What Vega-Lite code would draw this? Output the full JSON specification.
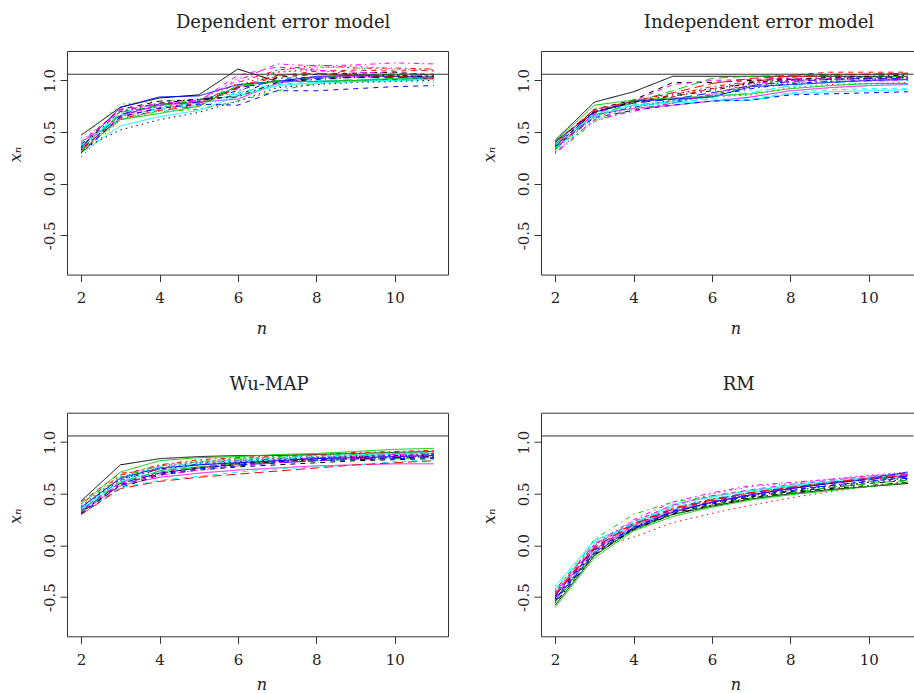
{
"$schema": "https://vega.github.io/schema/vega-lite/v6.json",
"autosize": {"type": "pad"},
"padding": {"left": 7, "top": 14, "right": 0, "bottom": 0},
"background": "white",
"config": {
  "font": "DejaVu Serif",
  "view": {"stroke": null},
  "axis": {"grid": false, "domainColor": "#333", "domainWidth": 1, "tickColor": "#333", "tickSize": 7, "labelColor": "#222", "labelFont": "DejaVu Serif", "labelFontSize": 15, "labelOverlap": false, "titleFont": "DejaVu Serif", "titleFontStyle": "italic", "titleFontWeight": "normal", "titleFontSize": 16, "titleColor": "#222"},
  "axisX": {"labelPadding": 9, "titleX": 194.5, "titleY": 59, "titleBaseline": "alphabetic", "titleAlign": "center"},
  "axisY": {"labelAngle": -90, "labelAlign": "center", "labelBaseline": "bottom", "labelPadding": 3, "titleAngle": -90, "titleX": -46.7, "titleY": 103, "titleBaseline": "alphabetic", "titleAlign": "center"},
  "title": {"font": "DejaVu Serif", "fontSize": 18, "fontWeight": "normal", "color": "#222", "anchor": "middle", "frame": "group", "offset": 19}
},
"datasets": {
"d1": [
{"s":1,"n":2,"v":0.47},{"s":1,"n":3,"v":0.74},{"s":1,"n":4,"v":0.83},{"s":1,"n":5,"v":0.86},{"s":1,"n":6,"v":1.11},{"s":1,"n":7,"v":0.99},{"s":1,"n":8,"v":0.99},{"s":1,"n":9,"v":1.00},{"s":1,"n":10,"v":1.01},{"s":1,"n":11,"v":1.02},
{"s":2,"n":2,"v":0.30},{"s":2,"n":3,"v":0.64},{"s":2,"n":4,"v":0.74},{"s":2,"n":5,"v":0.78},{"s":2,"n":6,"v":0.92},{"s":2,"n":7,"v":1.04},{"s":2,"n":8,"v":1.09},{"s":2,"n":9,"v":1.10},{"s":2,"n":10,"v":1.09},{"s":2,"n":11,"v":1.10},
{"s":3,"n":2,"v":0.44},{"s":3,"n":3,"v":0.77},{"s":3,"n":4,"v":0.80},{"s":3,"n":5,"v":0.82},{"s":3,"n":6,"v":0.88},{"s":3,"n":7,"v":1.10},{"s":3,"n":8,"v":1.13},{"s":3,"n":9,"v":1.12},{"s":3,"n":10,"v":1.10},{"s":3,"n":11,"v":1.11},
{"s":4,"n":2,"v":0.33},{"s":4,"n":3,"v":0.66},{"s":4,"n":4,"v":0.76},{"s":4,"n":5,"v":0.80},{"s":4,"n":6,"v":0.90},{"s":4,"n":7,"v":1.02},{"s":4,"n":8,"v":1.03},{"s":4,"n":9,"v":1.04},{"s":4,"n":10,"v":1.05},{"s":4,"n":11,"v":1.04},
{"s":5,"n":2,"v":0.34},{"s":5,"n":3,"v":0.70},{"s":5,"n":4,"v":0.74},{"s":5,"n":5,"v":0.78},{"s":5,"n":6,"v":0.87},{"s":5,"n":7,"v":0.98},{"s":5,"n":8,"v":1.00},{"s":5,"n":9,"v":1.01},{"s":5,"n":10,"v":1.02},{"s":5,"n":11,"v":1.03},
{"s":6,"n":2,"v":0.36},{"s":6,"n":3,"v":0.66},{"s":6,"n":4,"v":0.76},{"s":6,"n":5,"v":0.79},{"s":6,"n":6,"v":0.82},{"s":6,"n":7,"v":0.97},{"s":6,"n":8,"v":1.03},{"s":6,"n":9,"v":1.04},{"s":6,"n":10,"v":1.04},{"s":6,"n":11,"v":1.03},
{"s":7,"n":2,"v":0.38},{"s":7,"n":3,"v":0.72},{"s":7,"n":4,"v":0.80},{"s":7,"n":5,"v":0.81},{"s":7,"n":6,"v":0.85},{"s":7,"n":7,"v":1.03},{"s":7,"n":8,"v":1.06},{"s":7,"n":9,"v":1.07},{"s":7,"n":10,"v":1.08},{"s":7,"n":11,"v":1.05},
{"s":8,"n":2,"v":0.26},{"s":8,"n":3,"v":0.62},{"s":8,"n":4,"v":0.72},{"s":8,"n":5,"v":0.76},{"s":8,"n":6,"v":0.95},{"s":8,"n":7,"v":1.08},{"s":8,"n":8,"v":1.10},{"s":8,"n":9,"v":1.06},{"s":8,"n":10,"v":1.05},{"s":8,"n":11,"v":1.06},
{"s":9,"n":2,"v":0.35},{"s":9,"n":3,"v":0.62},{"s":9,"n":4,"v":0.70},{"s":9,"n":5,"v":0.72},{"s":9,"n":6,"v":0.80},{"s":9,"n":7,"v":0.90},{"s":9,"n":8,"v":0.97},{"s":9,"n":9,"v":0.99},{"s":9,"n":10,"v":1.00},{"s":9,"n":11,"v":1.01},
{"s":10,"n":2,"v":0.32},{"s":10,"n":3,"v":0.67},{"s":10,"n":4,"v":0.77},{"s":10,"n":5,"v":0.79},{"s":10,"n":6,"v":0.93},{"s":10,"n":7,"v":0.99},{"s":10,"n":8,"v":1.02},{"s":10,"n":9,"v":1.03},{"s":10,"n":10,"v":1.03},{"s":10,"n":11,"v":1.02},
{"s":11,"n":2,"v":0.30},{"s":11,"n":3,"v":0.56},{"s":11,"n":4,"v":0.65},{"s":11,"n":5,"v":0.71},{"s":11,"n":6,"v":0.85},{"s":11,"n":7,"v":0.95},{"s":11,"n":8,"v":0.98},{"s":11,"n":9,"v":0.99},{"s":11,"n":10,"v":1.00},{"s":11,"n":11,"v":1.01},
{"s":12,"n":2,"v":0.40},{"s":12,"n":3,"v":0.72},{"s":12,"n":4,"v":0.78},{"s":12,"n":5,"v":0.80},{"s":12,"n":6,"v":1.05},{"s":12,"n":7,"v":1.13},{"s":12,"n":8,"v":1.10},{"s":12,"n":9,"v":1.08},{"s":12,"n":10,"v":1.07},{"s":12,"n":11,"v":1.06},
{"s":13,"n":2,"v":0.33},{"s":13,"n":3,"v":0.52},{"s":13,"n":4,"v":0.62},{"s":13,"n":5,"v":0.69},{"s":13,"n":6,"v":0.80},{"s":13,"n":7,"v":0.93},{"s":13,"n":8,"v":0.96},{"s":13,"n":9,"v":0.98},{"s":13,"n":10,"v":0.99},{"s":13,"n":11,"v":1.00},
{"s":14,"n":2,"v":0.29},{"s":14,"n":3,"v":0.65},{"s":14,"n":4,"v":0.73},{"s":14,"n":5,"v":0.77},{"s":14,"n":6,"v":0.98},{"s":14,"n":7,"v":1.10},{"s":14,"n":8,"v":1.15},{"s":14,"n":9,"v":1.12},{"s":14,"n":10,"v":1.12},{"s":14,"n":11,"v":1.11},
{"s":15,"n":2,"v":0.31},{"s":15,"n":3,"v":0.69},{"s":15,"n":4,"v":0.76},{"s":15,"n":5,"v":0.80},{"s":15,"n":6,"v":0.94},{"s":15,"n":7,"v":1.00},{"s":15,"n":8,"v":1.03},{"s":15,"n":9,"v":1.05},{"s":15,"n":10,"v":1.06},{"s":15,"n":11,"v":1.04},
{"s":16,"n":2,"v":0.35},{"s":16,"n":3,"v":0.74},{"s":16,"n":4,"v":0.84},{"s":16,"n":5,"v":0.85},{"s":16,"n":6,"v":0.96},{"s":16,"n":7,"v":0.99},{"s":16,"n":8,"v":1.04},{"s":16,"n":9,"v":1.05},{"s":16,"n":10,"v":1.04},{"s":16,"n":11,"v":1.03},
{"s":17,"n":2,"v":0.37},{"s":17,"n":3,"v":0.66},{"s":17,"n":4,"v":0.72},{"s":17,"n":5,"v":0.76},{"s":17,"n":6,"v":0.88},{"s":17,"n":7,"v":0.96},{"s":17,"n":8,"v":0.99},{"s":17,"n":9,"v":1.00},{"s":17,"n":10,"v":1.01},{"s":17,"n":11,"v":1.02},
{"s":18,"n":2,"v":0.42},{"s":18,"n":3,"v":0.70},{"s":18,"n":4,"v":0.74},{"s":18,"n":5,"v":0.79},{"s":18,"n":6,"v":1.02},{"s":18,"n":7,"v":1.08},{"s":18,"n":8,"v":1.12},{"s":18,"n":9,"v":1.14},{"s":18,"n":10,"v":1.11},{"s":18,"n":11,"v":1.09},
{"s":19,"n":2,"v":0.36},{"s":19,"n":3,"v":0.70},{"s":19,"n":4,"v":0.78},{"s":19,"n":5,"v":0.82},{"s":19,"n":6,"v":0.84},{"s":19,"n":7,"v":0.98},{"s":19,"n":8,"v":1.01},{"s":19,"n":9,"v":1.03},{"s":19,"n":10,"v":1.04},{"s":19,"n":11,"v":1.04},
{"s":20,"n":2,"v":0.34},{"s":20,"n":3,"v":0.63},{"s":20,"n":4,"v":0.71},{"s":20,"n":5,"v":0.75},{"s":20,"n":6,"v":0.94},{"s":20,"n":7,"v":1.05},{"s":20,"n":8,"v":1.07},{"s":20,"n":9,"v":1.05},{"s":20,"n":10,"v":1.04},{"s":20,"n":11,"v":1.02},
{"s":21,"n":2,"v":0.32},{"s":21,"n":3,"v":0.62},{"s":21,"n":4,"v":0.68},{"s":21,"n":5,"v":0.75},{"s":21,"n":6,"v":0.95},{"s":21,"n":7,"v":0.99},{"s":21,"n":8,"v":0.99},{"s":21,"n":9,"v":1.00},{"s":21,"n":10,"v":1.02},{"s":21,"n":11,"v":1.03},
{"s":22,"n":2,"v":0.30},{"s":22,"n":3,"v":0.65},{"s":22,"n":4,"v":0.73},{"s":22,"n":5,"v":0.77},{"s":22,"n":6,"v":0.76},{"s":22,"n":7,"v":0.90},{"s":22,"n":8,"v":0.90},{"s":22,"n":9,"v":0.92},{"s":22,"n":10,"v":0.94},{"s":22,"n":11,"v":0.95},
{"s":23,"n":2,"v":0.38},{"s":23,"n":3,"v":0.63},{"s":23,"n":4,"v":0.70},{"s":23,"n":5,"v":0.74},{"s":23,"n":6,"v":0.86},{"s":23,"n":7,"v":0.94},{"s":23,"n":8,"v":0.97},{"s":23,"n":9,"v":0.98},{"s":23,"n":10,"v":0.99},{"s":23,"n":11,"v":0.98},
{"s":24,"n":2,"v":0.39},{"s":24,"n":3,"v":0.71},{"s":24,"n":4,"v":0.77},{"s":24,"n":5,"v":0.81},{"s":24,"n":6,"v":1.00},{"s":24,"n":7,"v":1.16},{"s":24,"n":8,"v":1.14},{"s":24,"n":9,"v":1.15},{"s":24,"n":10,"v":1.17},{"s":24,"n":11,"v":1.16}
],
"d2": [
{"s":1,"n":2,"v":0.42},{"s":1,"n":3,"v":0.79},{"s":1,"n":4,"v":0.89},{"s":1,"n":5,"v":1.04},{"s":1,"n":6,"v":1.04},{"s":1,"n":7,"v":1.04},{"s":1,"n":8,"v":1.04},{"s":1,"n":9,"v":1.04},{"s":1,"n":10,"v":1.04},{"s":1,"n":11,"v":1.04},
{"s":2,"n":2,"v":0.36},{"s":2,"n":3,"v":0.70},{"s":2,"n":4,"v":0.78},{"s":2,"n":5,"v":0.84},{"s":2,"n":6,"v":0.92},{"s":2,"n":7,"v":0.98},{"s":2,"n":8,"v":1.05},{"s":2,"n":9,"v":1.08},{"s":2,"n":10,"v":1.08},{"s":2,"n":11,"v":1.08},
{"s":3,"n":2,"v":0.30},{"s":3,"n":3,"v":0.62},{"s":3,"n":4,"v":0.74},{"s":3,"n":5,"v":0.80},{"s":3,"n":6,"v":0.86},{"s":3,"n":7,"v":0.93},{"s":3,"n":8,"v":0.98},{"s":3,"n":9,"v":1.00},{"s":3,"n":10,"v":1.01},{"s":3,"n":11,"v":1.02},
{"s":4,"n":2,"v":0.34},{"s":4,"n":3,"v":0.66},{"s":4,"n":4,"v":0.74},{"s":4,"n":5,"v":0.80},{"s":4,"n":6,"v":0.85},{"s":4,"n":7,"v":0.92},{"s":4,"n":8,"v":0.97},{"s":4,"n":9,"v":0.99},{"s":4,"n":10,"v":1.00},{"s":4,"n":11,"v":1.01},
{"s":5,"n":2,"v":0.37},{"s":5,"n":3,"v":0.68},{"s":5,"n":4,"v":0.76},{"s":5,"n":5,"v":0.80},{"s":5,"n":6,"v":0.84},{"s":5,"n":7,"v":0.88},{"s":5,"n":8,"v":0.95},{"s":5,"n":9,"v":0.98},{"s":5,"n":10,"v":0.99},{"s":5,"n":11,"v":1.00},
{"s":6,"n":2,"v":0.35},{"s":6,"n":3,"v":0.67},{"s":6,"n":4,"v":0.73},{"s":6,"n":5,"v":0.76},{"s":6,"n":6,"v":0.80},{"s":6,"n":7,"v":0.84},{"s":6,"n":8,"v":0.90},{"s":6,"n":9,"v":0.93},{"s":6,"n":10,"v":0.95},{"s":6,"n":11,"v":0.96},
{"s":7,"n":2,"v":0.38},{"s":7,"n":3,"v":0.72},{"s":7,"n":4,"v":0.81},{"s":7,"n":5,"v":0.98},{"s":7,"n":6,"v":0.98},{"s":7,"n":7,"v":1.00},{"s":7,"n":8,"v":1.01},{"s":7,"n":9,"v":1.02},{"s":7,"n":10,"v":1.03},{"s":7,"n":11,"v":1.03},
{"s":8,"n":2,"v":0.33},{"s":8,"n":3,"v":0.64},{"s":8,"n":4,"v":0.75},{"s":8,"n":5,"v":0.81},{"s":8,"n":6,"v":0.84},{"s":8,"n":7,"v":0.86},{"s":8,"n":8,"v":0.93},{"s":8,"n":9,"v":0.96},{"s":8,"n":10,"v":0.97},{"s":8,"n":11,"v":0.98},
{"s":9,"n":2,"v":0.29},{"s":9,"n":3,"v":0.60},{"s":9,"n":4,"v":0.72},{"s":9,"n":5,"v":0.78},{"s":9,"n":6,"v":0.86},{"s":9,"n":7,"v":0.95},{"s":9,"n":8,"v":1.00},{"s":9,"n":9,"v":1.02},{"s":9,"n":10,"v":1.03},{"s":9,"n":11,"v":1.04},
{"s":10,"n":2,"v":0.40},{"s":10,"n":3,"v":0.70},{"s":10,"n":4,"v":0.78},{"s":10,"n":5,"v":0.82},{"s":10,"n":6,"v":0.88},{"s":10,"n":7,"v":0.95},{"s":10,"n":8,"v":0.99},{"s":10,"n":9,"v":1.01},{"s":10,"n":10,"v":1.02},{"s":10,"n":11,"v":1.02},
{"s":11,"n":2,"v":0.38},{"s":11,"n":3,"v":0.66},{"s":11,"n":4,"v":0.76},{"s":11,"n":5,"v":0.78},{"s":11,"n":6,"v":0.80},{"s":11,"n":7,"v":0.81},{"s":11,"n":8,"v":0.87},{"s":11,"n":9,"v":0.89},{"s":11,"n":10,"v":0.90},{"s":11,"n":11,"v":0.91},
{"s":12,"n":2,"v":0.34},{"s":12,"n":3,"v":0.68},{"s":12,"n":4,"v":0.80},{"s":12,"n":5,"v":0.96},{"s":12,"n":6,"v":1.00},{"s":12,"n":7,"v":1.01},{"s":12,"n":8,"v":1.02},{"s":12,"n":9,"v":1.02},{"s":12,"n":10,"v":1.03},{"s":12,"n":11,"v":1.02},
{"s":13,"n":2,"v":0.36},{"s":13,"n":3,"v":0.70},{"s":13,"n":4,"v":0.80},{"s":13,"n":5,"v":0.87},{"s":13,"n":6,"v":0.92},{"s":13,"n":7,"v":0.97},{"s":13,"n":8,"v":1.00},{"s":13,"n":9,"v":1.01},{"s":13,"n":10,"v":1.02},{"s":13,"n":11,"v":1.03},
{"s":14,"n":2,"v":0.39},{"s":14,"n":3,"v":0.71},{"s":14,"n":4,"v":0.79},{"s":14,"n":5,"v":0.86},{"s":14,"n":6,"v":0.94},{"s":14,"n":7,"v":0.99},{"s":14,"n":8,"v":1.03},{"s":14,"n":9,"v":1.05},{"s":14,"n":10,"v":1.06},{"s":14,"n":11,"v":1.06},
{"s":15,"n":2,"v":0.33},{"s":15,"n":3,"v":0.65},{"s":15,"n":4,"v":0.79},{"s":15,"n":5,"v":0.90},{"s":15,"n":6,"v":1.02},{"s":15,"n":7,"v":1.04},{"s":15,"n":8,"v":1.05},{"s":15,"n":9,"v":1.06},{"s":15,"n":10,"v":1.06},{"s":15,"n":11,"v":1.07},
{"s":16,"n":2,"v":0.41},{"s":16,"n":3,"v":0.69},{"s":16,"n":4,"v":0.80},{"s":16,"n":5,"v":0.82},{"s":16,"n":6,"v":0.84},{"s":16,"n":7,"v":0.94},{"s":16,"n":8,"v":0.96},{"s":16,"n":9,"v":0.98},{"s":16,"n":10,"v":1.00},{"s":16,"n":11,"v":1.01},
{"s":17,"n":2,"v":0.35},{"s":17,"n":3,"v":0.65},{"s":17,"n":4,"v":0.77},{"s":17,"n":5,"v":0.79},{"s":17,"n":6,"v":0.82},{"s":17,"n":7,"v":0.82},{"s":17,"n":8,"v":0.88},{"s":17,"n":9,"v":0.91},{"s":17,"n":10,"v":0.92},{"s":17,"n":11,"v":0.92},
{"s":18,"n":2,"v":0.31},{"s":18,"n":3,"v":0.61},{"s":18,"n":4,"v":0.72},{"s":18,"n":5,"v":0.78},{"s":18,"n":6,"v":0.86},{"s":18,"n":7,"v":0.95},{"s":18,"n":8,"v":0.98},{"s":18,"n":9,"v":0.99},{"s":18,"n":10,"v":1.00},{"s":18,"n":11,"v":1.01},
{"s":19,"n":2,"v":0.37},{"s":19,"n":3,"v":0.69},{"s":19,"n":4,"v":0.79},{"s":19,"n":5,"v":0.85},{"s":19,"n":6,"v":0.90},{"s":19,"n":7,"v":0.98},{"s":19,"n":8,"v":1.01},{"s":19,"n":9,"v":1.03},{"s":19,"n":10,"v":1.04},{"s":19,"n":11,"v":1.05},
{"s":20,"n":2,"v":0.40},{"s":20,"n":3,"v":0.72},{"s":20,"n":4,"v":0.80},{"s":20,"n":5,"v":0.88},{"s":20,"n":6,"v":0.97},{"s":20,"n":7,"v":1.02},{"s":20,"n":8,"v":1.04},{"s":20,"n":9,"v":1.05},{"s":20,"n":10,"v":1.06},{"s":20,"n":11,"v":1.07},
{"s":21,"n":2,"v":0.41},{"s":21,"n":3,"v":0.76},{"s":21,"n":4,"v":0.81},{"s":21,"n":5,"v":0.83},{"s":21,"n":6,"v":0.85},{"s":21,"n":7,"v":0.87},{"s":21,"n":8,"v":0.92},{"s":21,"n":9,"v":0.95},{"s":21,"n":10,"v":0.97},{"s":21,"n":11,"v":0.97},
{"s":22,"n":2,"v":0.36},{"s":22,"n":3,"v":0.64},{"s":22,"n":4,"v":0.71},{"s":22,"n":5,"v":0.76},{"s":22,"n":6,"v":0.80},{"s":22,"n":7,"v":0.81},{"s":22,"n":8,"v":0.86},{"s":22,"n":9,"v":0.87},{"s":22,"n":10,"v":0.88},{"s":22,"n":11,"v":0.89},
{"s":23,"n":2,"v":0.32},{"s":23,"n":3,"v":0.63},{"s":23,"n":4,"v":0.74},{"s":23,"n":5,"v":0.79},{"s":23,"n":6,"v":0.83},{"s":23,"n":7,"v":0.90},{"s":23,"n":8,"v":0.94},{"s":23,"n":9,"v":0.95},{"s":23,"n":10,"v":0.96},{"s":23,"n":11,"v":0.96},
{"s":24,"n":2,"v":0.30},{"s":24,"n":3,"v":0.62},{"s":24,"n":4,"v":0.70},{"s":24,"n":5,"v":0.78},{"s":24,"n":6,"v":0.87},{"s":24,"n":7,"v":0.97},{"s":24,"n":8,"v":1.00},{"s":24,"n":9,"v":1.01},{"s":24,"n":10,"v":1.01},{"s":24,"n":11,"v":1.00}
],
"d3": [
{"s":1,"n":2,"v":0.43},{"s":1,"n":3,"v":0.78},{"s":1,"n":4,"v":0.84},{"s":1,"n":5,"v":0.86},{"s":1,"n":6,"v":0.87},{"s":1,"n":7,"v":0.87},{"s":1,"n":8,"v":0.88},{"s":1,"n":9,"v":0.89},{"s":1,"n":10,"v":0.90},{"s":1,"n":11,"v":0.91},
{"s":2,"n":2,"v":0.42},{"s":2,"n":3,"v":0.70},{"s":2,"n":4,"v":0.73},{"s":2,"n":5,"v":0.76},{"s":2,"n":6,"v":0.79},{"s":2,"n":7,"v":0.81},{"s":2,"n":8,"v":0.83},{"s":2,"n":9,"v":0.84},{"s":2,"n":10,"v":0.86},{"s":2,"n":11,"v":0.87},
{"s":3,"n":2,"v":0.38},{"s":3,"n":3,"v":0.68},{"s":3,"n":4,"v":0.78},{"s":3,"n":5,"v":0.82},{"s":3,"n":6,"v":0.84},{"s":3,"n":7,"v":0.86},{"s":3,"n":8,"v":0.88},{"s":3,"n":9,"v":0.89},{"s":3,"n":10,"v":0.90},{"s":3,"n":11,"v":0.91},
{"s":4,"n":2,"v":0.34},{"s":4,"n":3,"v":0.63},{"s":4,"n":4,"v":0.74},{"s":4,"n":5,"v":0.79},{"s":4,"n":6,"v":0.82},{"s":4,"n":7,"v":0.84},{"s":4,"n":8,"v":0.85},{"s":4,"n":9,"v":0.86},{"s":4,"n":10,"v":0.87},{"s":4,"n":11,"v":0.88},
{"s":5,"n":2,"v":0.36},{"s":5,"n":3,"v":0.66},{"s":5,"n":4,"v":0.76},{"s":5,"n":5,"v":0.80},{"s":5,"n":6,"v":0.83},{"s":5,"n":7,"v":0.85},{"s":5,"n":8,"v":0.87},{"s":5,"n":9,"v":0.88},{"s":5,"n":10,"v":0.89},{"s":5,"n":11,"v":0.90},
{"s":6,"n":2,"v":0.32},{"s":6,"n":3,"v":0.58},{"s":6,"n":4,"v":0.66},{"s":6,"n":5,"v":0.70},{"s":6,"n":6,"v":0.73},{"s":6,"n":7,"v":0.75},{"s":6,"n":8,"v":0.77},{"s":6,"n":9,"v":0.78},{"s":6,"n":10,"v":0.79},{"s":6,"n":11,"v":0.79},
{"s":7,"n":2,"v":0.30},{"s":7,"n":3,"v":0.56},{"s":7,"n":4,"v":0.68},{"s":7,"n":5,"v":0.73},{"s":7,"n":6,"v":0.76},{"s":7,"n":7,"v":0.78},{"s":7,"n":8,"v":0.80},{"s":7,"n":9,"v":0.82},{"s":7,"n":10,"v":0.83},{"s":7,"n":11,"v":0.84},
{"s":8,"n":2,"v":0.35},{"s":8,"n":3,"v":0.64},{"s":8,"n":4,"v":0.75},{"s":8,"n":5,"v":0.80},{"s":8,"n":6,"v":0.82},{"s":8,"n":7,"v":0.84},{"s":8,"n":8,"v":0.86},{"s":8,"n":9,"v":0.87},{"s":8,"n":10,"v":0.89},{"s":8,"n":11,"v":0.90},
{"s":9,"n":2,"v":0.37},{"s":9,"n":3,"v":0.66},{"s":9,"n":4,"v":0.77},{"s":9,"n":5,"v":0.81},{"s":9,"n":6,"v":0.84},{"s":9,"n":7,"v":0.86},{"s":9,"n":8,"v":0.87},{"s":9,"n":9,"v":0.88},{"s":9,"n":10,"v":0.89},{"s":9,"n":11,"v":0.91},
{"s":10,"n":2,"v":0.33},{"s":10,"n":3,"v":0.60},{"s":10,"n":4,"v":0.70},{"s":10,"n":5,"v":0.75},{"s":10,"n":6,"v":0.78},{"s":10,"n":7,"v":0.80},{"s":10,"n":8,"v":0.82},{"s":10,"n":9,"v":0.84},{"s":10,"n":10,"v":0.85},{"s":10,"n":11,"v":0.86},
{"s":11,"n":2,"v":0.35},{"s":11,"n":3,"v":0.62},{"s":11,"n":4,"v":0.72},{"s":11,"n":5,"v":0.78},{"s":11,"n":6,"v":0.81},{"s":11,"n":7,"v":0.83},{"s":11,"n":8,"v":0.85},{"s":11,"n":9,"v":0.87},{"s":11,"n":10,"v":0.88},{"s":11,"n":11,"v":0.89},
{"s":12,"n":2,"v":0.34},{"s":12,"n":3,"v":0.61},{"s":12,"n":4,"v":0.71},{"s":12,"n":5,"v":0.76},{"s":12,"n":6,"v":0.80},{"s":12,"n":7,"v":0.82},{"s":12,"n":8,"v":0.85},{"s":12,"n":9,"v":0.86},{"s":12,"n":10,"v":0.88},{"s":12,"n":11,"v":0.89},
{"s":13,"n":2,"v":0.36},{"s":13,"n":3,"v":0.64},{"s":13,"n":4,"v":0.74},{"s":13,"n":5,"v":0.78},{"s":13,"n":6,"v":0.81},{"s":13,"n":7,"v":0.83},{"s":13,"n":8,"v":0.85},{"s":13,"n":9,"v":0.86},{"s":13,"n":10,"v":0.87},{"s":13,"n":11,"v":0.88},
{"s":14,"n":2,"v":0.40},{"s":14,"n":3,"v":0.68},{"s":14,"n":4,"v":0.78},{"s":14,"n":5,"v":0.83},{"s":14,"n":6,"v":0.85},{"s":14,"n":7,"v":0.87},{"s":14,"n":8,"v":0.88},{"s":14,"n":9,"v":0.90},{"s":14,"n":10,"v":0.91},{"s":14,"n":11,"v":0.92},
{"s":15,"n":2,"v":0.33},{"s":15,"n":3,"v":0.61},{"s":15,"n":4,"v":0.72},{"s":15,"n":5,"v":0.76},{"s":15,"n":6,"v":0.79},{"s":15,"n":7,"v":0.81},{"s":15,"n":8,"v":0.82},{"s":15,"n":9,"v":0.83},{"s":15,"n":10,"v":0.84},{"s":15,"n":11,"v":0.85},
{"s":16,"n":2,"v":0.37},{"s":16,"n":3,"v":0.65},{"s":16,"n":4,"v":0.75},{"s":16,"n":5,"v":0.78},{"s":16,"n":6,"v":0.80},{"s":16,"n":7,"v":0.82},{"s":16,"n":8,"v":0.84},{"s":16,"n":9,"v":0.85},{"s":16,"n":10,"v":0.86},{"s":16,"n":11,"v":0.87},
{"s":17,"n":2,"v":0.31},{"s":17,"n":3,"v":0.56},{"s":17,"n":4,"v":0.63},{"s":17,"n":5,"v":0.67},{"s":17,"n":6,"v":0.71},{"s":17,"n":7,"v":0.74},{"s":17,"n":8,"v":0.76},{"s":17,"n":9,"v":0.78},{"s":17,"n":10,"v":0.81},{"s":17,"n":11,"v":0.83},
{"s":18,"n":2,"v":0.38},{"s":18,"n":3,"v":0.66},{"s":18,"n":4,"v":0.77},{"s":18,"n":5,"v":0.81},{"s":18,"n":6,"v":0.83},{"s":18,"n":7,"v":0.85},{"s":18,"n":8,"v":0.86},{"s":18,"n":9,"v":0.87},{"s":18,"n":10,"v":0.88},{"s":18,"n":11,"v":0.89},
{"s":19,"n":2,"v":0.32},{"s":19,"n":3,"v":0.59},{"s":19,"n":4,"v":0.70},{"s":19,"n":5,"v":0.75},{"s":19,"n":6,"v":0.79},{"s":19,"n":7,"v":0.81},{"s":19,"n":8,"v":0.83},{"s":19,"n":9,"v":0.84},{"s":19,"n":10,"v":0.85},{"s":19,"n":11,"v":0.86},
{"s":20,"n":2,"v":0.30},{"s":20,"n":3,"v":0.55},{"s":20,"n":4,"v":0.62},{"s":20,"n":5,"v":0.66},{"s":20,"n":6,"v":0.69},{"s":20,"n":7,"v":0.72},{"s":20,"n":8,"v":0.75},{"s":20,"n":9,"v":0.78},{"s":20,"n":10,"v":0.80},{"s":20,"n":11,"v":0.82},
{"s":21,"n":2,"v":0.40},{"s":21,"n":3,"v":0.71},{"s":21,"n":4,"v":0.82},{"s":21,"n":5,"v":0.85},{"s":21,"n":6,"v":0.86},{"s":21,"n":7,"v":0.88},{"s":21,"n":8,"v":0.89},{"s":21,"n":9,"v":0.91},{"s":21,"n":10,"v":0.93},{"s":21,"n":11,"v":0.94},
{"s":22,"n":2,"v":0.31},{"s":22,"n":3,"v":0.58},{"s":22,"n":4,"v":0.69},{"s":22,"n":5,"v":0.74},{"s":22,"n":6,"v":0.77},{"s":22,"n":7,"v":0.80},{"s":22,"n":8,"v":0.82},{"s":22,"n":9,"v":0.83},{"s":22,"n":10,"v":0.84},{"s":22,"n":11,"v":0.85},
{"s":23,"n":2,"v":0.36},{"s":23,"n":3,"v":0.63},{"s":23,"n":4,"v":0.75},{"s":23,"n":5,"v":0.79},{"s":23,"n":6,"v":0.82},{"s":23,"n":7,"v":0.84},{"s":23,"n":8,"v":0.86},{"s":23,"n":9,"v":0.88},{"s":23,"n":10,"v":0.89},{"s":23,"n":11,"v":0.90},
{"s":24,"n":2,"v":0.33},{"s":24,"n":3,"v":0.60},{"s":24,"n":4,"v":0.68},{"s":24,"n":5,"v":0.73},{"s":24,"n":6,"v":0.77},{"s":24,"n":7,"v":0.80},{"s":24,"n":8,"v":0.82},{"s":24,"n":9,"v":0.84},{"s":24,"n":10,"v":0.86},{"s":24,"n":11,"v":0.87}
],
"d4": [
{"s":1,"n":2,"v":-0.58},{"s":1,"n":3,"v":-0.10},{"s":1,"n":4,"v":0.16},{"s":1,"n":5,"v":0.30},{"s":1,"n":6,"v":0.38},{"s":1,"n":7,"v":0.45},{"s":1,"n":8,"v":0.50},{"s":1,"n":9,"v":0.54},{"s":1,"n":10,"v":0.57},{"s":1,"n":11,"v":0.60},
{"s":2,"n":2,"v":-0.50},{"s":2,"n":3,"v":-0.03},{"s":2,"n":4,"v":0.20},{"s":2,"n":5,"v":0.34},{"s":2,"n":6,"v":0.43},{"s":2,"n":7,"v":0.50},{"s":2,"n":8,"v":0.55},{"s":2,"n":9,"v":0.60},{"s":2,"n":10,"v":0.64},{"s":2,"n":11,"v":0.67},
{"s":3,"n":2,"v":-0.44},{"s":3,"n":3,"v":0.04},{"s":3,"n":4,"v":0.22},{"s":3,"n":5,"v":0.36},{"s":3,"n":6,"v":0.45},{"s":3,"n":7,"v":0.51},{"s":3,"n":8,"v":0.56},{"s":3,"n":9,"v":0.60},{"s":3,"n":10,"v":0.63},{"s":3,"n":11,"v":0.65},
{"s":4,"n":2,"v":-0.52},{"s":4,"n":3,"v":-0.05},{"s":4,"n":4,"v":0.18},{"s":4,"n":5,"v":0.33},{"s":4,"n":6,"v":0.42},{"s":4,"n":7,"v":0.49},{"s":4,"n":8,"v":0.54},{"s":4,"n":9,"v":0.58},{"s":4,"n":10,"v":0.62},{"s":4,"n":11,"v":0.65},
{"s":5,"n":2,"v":-0.46},{"s":5,"n":3,"v":0.00},{"s":5,"n":4,"v":0.22},{"s":5,"n":5,"v":0.37},{"s":5,"n":6,"v":0.45},{"s":5,"n":7,"v":0.52},{"s":5,"n":8,"v":0.57},{"s":5,"n":9,"v":0.61},{"s":5,"n":10,"v":0.65},{"s":5,"n":11,"v":0.68},
{"s":6,"n":2,"v":-0.48},{"s":6,"n":3,"v":-0.04},{"s":6,"n":4,"v":0.19},{"s":6,"n":5,"v":0.33},{"s":6,"n":6,"v":0.42},{"s":6,"n":7,"v":0.49},{"s":6,"n":8,"v":0.55},{"s":6,"n":9,"v":0.60},{"s":6,"n":10,"v":0.64},{"s":6,"n":11,"v":0.68},
{"s":7,"n":2,"v":-0.54},{"s":7,"n":3,"v":-0.08},{"s":7,"n":4,"v":0.16},{"s":7,"n":5,"v":0.31},{"s":7,"n":6,"v":0.40},{"s":7,"n":7,"v":0.47},{"s":7,"n":8,"v":0.52},{"s":7,"n":9,"v":0.56},{"s":7,"n":10,"v":0.60},{"s":7,"n":11,"v":0.63},
{"s":8,"n":2,"v":-0.45},{"s":8,"n":3,"v":-0.03},{"s":8,"n":4,"v":0.08},{"s":8,"n":5,"v":0.22},{"s":8,"n":6,"v":0.31},{"s":8,"n":7,"v":0.39},{"s":8,"n":8,"v":0.46},{"s":8,"n":9,"v":0.52},{"s":8,"n":10,"v":0.57},{"s":8,"n":11,"v":0.62},
{"s":9,"n":2,"v":-0.50},{"s":9,"n":3,"v":0.06},{"s":9,"n":4,"v":0.30},{"s":9,"n":5,"v":0.42},{"s":9,"n":6,"v":0.48},{"s":9,"n":7,"v":0.53},{"s":9,"n":8,"v":0.57},{"s":9,"n":9,"v":0.61},{"s":9,"n":10,"v":0.64},{"s":9,"n":11,"v":0.66},
{"s":10,"n":2,"v":-0.49},{"s":10,"n":3,"v":-0.02},{"s":10,"n":4,"v":0.21},{"s":10,"n":5,"v":0.35},{"s":10,"n":6,"v":0.44},{"s":10,"n":7,"v":0.51},{"s":10,"n":8,"v":0.56},{"s":10,"n":9,"v":0.60},{"s":10,"n":10,"v":0.64},{"s":10,"n":11,"v":0.67},
{"s":11,"n":2,"v":-0.40},{"s":11,"n":3,"v":0.05},{"s":11,"n":4,"v":0.20},{"s":11,"n":5,"v":0.40},{"s":11,"n":6,"v":0.47},{"s":11,"n":7,"v":0.53},{"s":11,"n":8,"v":0.58},{"s":11,"n":9,"v":0.62},{"s":11,"n":10,"v":0.66},{"s":11,"n":11,"v":0.70},
{"s":12,"n":2,"v":-0.47},{"s":12,"n":3,"v":-0.01},{"s":12,"n":4,"v":0.23},{"s":12,"n":5,"v":0.39},{"s":12,"n":6,"v":0.48},{"s":12,"n":7,"v":0.54},{"s":12,"n":8,"v":0.59},{"s":12,"n":9,"v":0.63},{"s":12,"n":10,"v":0.67},{"s":12,"n":11,"v":0.70},
{"s":13,"n":2,"v":-0.52},{"s":13,"n":3,"v":-0.06},{"s":13,"n":4,"v":0.17},{"s":13,"n":5,"v":0.32},{"s":13,"n":6,"v":0.41},{"s":13,"n":7,"v":0.48},{"s":13,"n":8,"v":0.53},{"s":13,"n":9,"v":0.57},{"s":13,"n":10,"v":0.61},{"s":13,"n":11,"v":0.64},
{"s":14,"n":2,"v":-0.43},{"s":14,"n":3,"v":0.01},{"s":14,"n":4,"v":0.21},{"s":14,"n":5,"v":0.36},{"s":14,"n":6,"v":0.45},{"s":14,"n":7,"v":0.51},{"s":14,"n":8,"v":0.56},{"s":14,"n":9,"v":0.61},{"s":14,"n":10,"v":0.65},{"s":14,"n":11,"v":0.68},
{"s":15,"n":2,"v":-0.55},{"s":15,"n":3,"v":-0.09},{"s":15,"n":4,"v":0.15},{"s":15,"n":5,"v":0.30},{"s":15,"n":6,"v":0.39},{"s":15,"n":7,"v":0.46},{"s":15,"n":8,"v":0.51},{"s":15,"n":9,"v":0.56},{"s":15,"n":10,"v":0.60},{"s":15,"n":11,"v":0.63},
{"s":16,"n":2,"v":-0.53},{"s":16,"n":3,"v":-0.07},{"s":16,"n":4,"v":0.17},{"s":16,"n":5,"v":0.32},{"s":16,"n":6,"v":0.42},{"s":16,"n":7,"v":0.49},{"s":16,"n":8,"v":0.55},{"s":16,"n":9,"v":0.60},{"s":16,"n":10,"v":0.65},{"s":16,"n":11,"v":0.71},
{"s":17,"n":2,"v":-0.42},{"s":17,"n":3,"v":0.03},{"s":17,"n":4,"v":0.19},{"s":17,"n":5,"v":0.35},{"s":17,"n":6,"v":0.44},{"s":17,"n":7,"v":0.51},{"s":17,"n":8,"v":0.57},{"s":17,"n":9,"v":0.61},{"s":17,"n":10,"v":0.65},{"s":17,"n":11,"v":0.69},
{"s":18,"n":2,"v":-0.46},{"s":18,"n":3,"v":0.00},{"s":18,"n":4,"v":0.24},{"s":18,"n":5,"v":0.38},{"s":18,"n":6,"v":0.50},{"s":18,"n":7,"v":0.57},{"s":18,"n":8,"v":0.60},{"s":18,"n":9,"v":0.64},{"s":18,"n":10,"v":0.68},{"s":18,"n":11,"v":0.71},
{"s":19,"n":2,"v":-0.56},{"s":19,"n":3,"v":-0.09},{"s":19,"n":4,"v":0.15},{"s":19,"n":5,"v":0.30},{"s":19,"n":6,"v":0.39},{"s":19,"n":7,"v":0.46},{"s":19,"n":8,"v":0.51},{"s":19,"n":9,"v":0.55},{"s":19,"n":10,"v":0.58},{"s":19,"n":11,"v":0.61},
{"s":20,"n":2,"v":-0.47},{"s":20,"n":3,"v":-0.02},{"s":20,"n":4,"v":0.20},{"s":20,"n":5,"v":0.35},{"s":20,"n":6,"v":0.44},{"s":20,"n":7,"v":0.51},{"s":20,"n":8,"v":0.56},{"s":20,"n":9,"v":0.61},{"s":20,"n":10,"v":0.65},{"s":20,"n":11,"v":0.69},
{"s":21,"n":2,"v":-0.60},{"s":21,"n":3,"v":-0.12},{"s":21,"n":4,"v":0.14},{"s":21,"n":5,"v":0.28},{"s":21,"n":6,"v":0.37},{"s":21,"n":7,"v":0.44},{"s":21,"n":8,"v":0.49},{"s":21,"n":9,"v":0.53},{"s":21,"n":10,"v":0.57},{"s":21,"n":11,"v":0.61},
{"s":22,"n":2,"v":-0.51},{"s":22,"n":3,"v":-0.04},{"s":22,"n":4,"v":0.17},{"s":22,"n":5,"v":0.33},{"s":22,"n":6,"v":0.41},{"s":22,"n":7,"v":0.48},{"s":22,"n":8,"v":0.53},{"s":22,"n":9,"v":0.58},{"s":22,"n":10,"v":0.62},{"s":22,"n":11,"v":0.66},
{"s":23,"n":2,"v":-0.44},{"s":23,"n":3,"v":0.02},{"s":23,"n":4,"v":0.23},{"s":23,"n":5,"v":0.38},{"s":23,"n":6,"v":0.47},{"s":23,"n":7,"v":0.54},{"s":23,"n":8,"v":0.59},{"s":23,"n":9,"v":0.63},{"s":23,"n":10,"v":0.67},{"s":23,"n":11,"v":0.71},
{"s":24,"n":2,"v":-0.45},{"s":24,"n":3,"v":0.01},{"s":24,"n":4,"v":0.25},{"s":24,"n":5,"v":0.42},{"s":24,"n":6,"v":0.51},{"s":24,"n":7,"v":0.58},{"s":24,"n":8,"v":0.61},{"s":24,"n":9,"v":0.64},{"s":24,"n":10,"v":0.67},{"s":24,"n":11,"v":0.69}
]
},
"columns": 2,
"bounds": "flush",
"spacing": {"row": 137.7, "column": 93},
"resolve": {"scale": {"x": "independent", "y": "independent"}},
"concat": [
{
 "width": 381, "height": 223.6,
 "title": {"text": "Dependent error model", "dx": 25.6},
 "data": {"name": "d1"},
 "layer": [
  {"mark": {"type": "line", "strokeWidth": 1, "clip": true},
   "encoding": {
    "x": {"field": "n", "type": "quantitative", "scale": {"domain": [1.64, 11.36], "nice": false, "zero": false}, "axis": {"values": [2,4,6,8,10], "title": "n"}},
    "y": {"field": "v", "type": "quantitative", "scale": {"domain": [-0.88, 1.285], "nice": false, "zero": false}, "axis": {"values": [-0.5,0,0.5,1], "title": "xₙ", "labelExpr": "datum.value < 0 ? '-' + format(-datum.value, '.1f') : format(datum.value, '.1f')"}},
    "color": {"field": "s", "type": "nominal", "legend": null, "scale": {"domain": [1,2,3,4,5,6,7,8,9,10,11,12,13,14,15,16,17,18,19,20,21,22,23,24], "range": ["#000000","#FF0000","#00CD00","#0000FF","#00FFFF","#FF00FF","#000000","#FF0000","#00CD00","#0000FF","#00FFFF","#FF00FF","#000000","#FF0000","#00CD00","#0000FF","#00FFFF","#FF00FF","#000000","#FF0000","#00CD00","#0000FF","#00FFFF","#FF00FF"]}},
    "strokeDash": {"field": "s", "type": "nominal", "legend": null, "scale": {"domain": [1,2,3,4,5,6,7,8,9,10,11,12,13,14,15,16,17,18,19,20,21,22,23,24], "range": [[1,0],[5,5],[1.5,4],[1.5,4,5,4],[9,5],[1,0],[5,5],[1.5,4],[1.5,4,5,4],[9,5],[1,0],[5,5],[1.5,4],[1.5,4,5,4],[9,5],[1,0],[5,5],[1.5,4],[1.5,4,5,4],[9,5],[1,0],[5,5],[1.5,4],[1.5,4,5,4]]}}
   }},
  {"data": {"values": [{"ref": 1.06}]}, "mark": {"type": "rule", "color": "#333", "strokeWidth": 1}, "encoding": {"y": {"field": "ref", "type": "quantitative", "axis": null}}},
  {"mark": {"type": "point", "opacity": 0},
   "encoding": {
    "x": {"field": "n", "type": "quantitative", "scale": {"domain": [1.64, 11.36], "nice": false, "zero": false}, "axis": {"orient": "top", "labels": false, "ticks": false, "title": null}},
    "y": {"field": "v", "type": "quantitative", "scale": {"domain": [-0.88, 1.285], "nice": false, "zero": false}, "axis": {"orient": "right", "labels": false, "ticks": false, "title": null}}
   }}
 ],
 "resolve": {"axis": {"x": "independent", "y": "independent"}}
},
{
 "width": 372.5, "height": 223.6,
 "title": {"text": "Independent error model", "dx": 31.7},
 "data": {"name": "d2"},
 "layer": [
  {"mark": {"type": "line", "strokeWidth": 1, "clip": true},
   "encoding": {
    "x": {"field": "n", "type": "quantitative", "scale": {"domain": [1.64, 11.143], "nice": false, "zero": false}, "axis": {"values": [2,4,6,8,10], "title": "n"}},
    "y": {"field": "v", "type": "quantitative", "scale": {"domain": [-0.88, 1.285], "nice": false, "zero": false}, "axis": {"values": [-0.5,0,0.5,1], "title": "xₙ", "labelExpr": "datum.value < 0 ? '-' + format(-datum.value, '.1f') : format(datum.value, '.1f')"}},
    "color": {"field": "s", "type": "nominal", "legend": null, "scale": {"domain": [1,2,3,4,5,6,7,8,9,10,11,12,13,14,15,16,17,18,19,20,21,22,23,24], "range": ["#000000","#FF0000","#00CD00","#0000FF","#00FFFF","#FF00FF","#000000","#FF0000","#00CD00","#0000FF","#00FFFF","#FF00FF","#000000","#FF0000","#00CD00","#0000FF","#00FFFF","#FF00FF","#000000","#FF0000","#00CD00","#0000FF","#00FFFF","#FF00FF"]}},
    "strokeDash": {"field": "s", "type": "nominal", "legend": null, "scale": {"domain": [1,2,3,4,5,6,7,8,9,10,11,12,13,14,15,16,17,18,19,20,21,22,23,24], "range": [[1,0],[5,5],[1.5,4],[1.5,4,5,4],[9,5],[1,0],[5,5],[1.5,4],[1.5,4,5,4],[9,5],[1,0],[5,5],[1.5,4],[1.5,4,5,4],[9,5],[1,0],[5,5],[1.5,4],[1.5,4,5,4],[9,5],[1,0],[5,5],[1.5,4],[1.5,4,5,4]]}}
   }},
  {"data": {"values": [{"ref": 1.06}]}, "mark": {"type": "rule", "color": "#333", "strokeWidth": 1}, "encoding": {"y": {"field": "ref", "type": "quantitative", "axis": null}}},
  {"mark": {"type": "point", "opacity": 0},
   "encoding": {
    "x": {"field": "n", "type": "quantitative", "scale": {"domain": [1.64, 11.143], "nice": false, "zero": false}, "axis": {"orient": "top", "labels": false, "ticks": false, "title": null}}
   }}
 ],
 "resolve": {"axis": {"x": "independent", "y": "independent"}}
},
{
 "width": 381, "height": 223.6,
 "title": {"text": "Wu-MAP", "dx": 11.5},
 "data": {"name": "d3"},
 "layer": [
  {"mark": {"type": "line", "strokeWidth": 1, "clip": true},
   "encoding": {
    "x": {"field": "n", "type": "quantitative", "scale": {"domain": [1.64, 11.36], "nice": false, "zero": false}, "axis": {"values": [2,4,6,8,10], "title": "n", "titleY": 53}},
    "y": {"field": "v", "type": "quantitative", "scale": {"domain": [-0.88, 1.285], "nice": false, "zero": false}, "axis": {"values": [-0.5,0,0.5,1], "title": "xₙ", "labelExpr": "datum.value < 0 ? '-' + format(-datum.value, '.1f') : format(datum.value, '.1f')"}},
    "color": {"field": "s", "type": "nominal", "legend": null, "scale": {"domain": [1,2,3,4,5,6,7,8,9,10,11,12,13,14,15,16,17,18,19,20,21,22,23,24], "range": ["#000000","#FF0000","#00CD00","#0000FF","#00FFFF","#FF00FF","#000000","#FF0000","#00CD00","#0000FF","#00FFFF","#FF00FF","#000000","#FF0000","#00CD00","#0000FF","#00FFFF","#FF00FF","#000000","#FF0000","#00CD00","#0000FF","#00FFFF","#FF00FF"]}},
    "strokeDash": {"field": "s", "type": "nominal", "legend": null, "scale": {"domain": [1,2,3,4,5,6,7,8,9,10,11,12,13,14,15,16,17,18,19,20,21,22,23,24], "range": [[1,0],[5,5],[1.5,4],[1.5,4,5,4],[9,5],[1,0],[5,5],[1.5,4],[1.5,4,5,4],[9,5],[1,0],[5,5],[1.5,4],[1.5,4,5,4],[9,5],[1,0],[5,5],[1.5,4],[1.5,4,5,4],[9,5],[1,0],[5,5],[1.5,4],[1.5,4,5,4]]}}
   }},
  {"data": {"values": [{"ref": 1.06}]}, "mark": {"type": "rule", "color": "#333", "strokeWidth": 1}, "encoding": {"y": {"field": "ref", "type": "quantitative", "axis": null}}},
  {"mark": {"type": "point", "opacity": 0},
   "encoding": {
    "x": {"field": "n", "type": "quantitative", "scale": {"domain": [1.64, 11.36], "nice": false, "zero": false}, "axis": {"orient": "top", "labels": false, "ticks": false, "title": null}},
    "y": {"field": "v", "type": "quantitative", "scale": {"domain": [-0.88, 1.285], "nice": false, "zero": false}, "axis": {"orient": "right", "labels": false, "ticks": false, "title": null}}
   }}
 ],
 "resolve": {"axis": {"x": "independent", "y": "independent"}}
},
{
 "width": 372.5, "height": 223.6,
 "title": {"text": "RM", "dx": 11.4},
 "data": {"name": "d4"},
 "layer": [
  {"mark": {"type": "line", "strokeWidth": 1, "clip": true},
   "encoding": {
    "x": {"field": "n", "type": "quantitative", "scale": {"domain": [1.64, 11.143], "nice": false, "zero": false}, "axis": {"values": [2,4,6,8,10], "title": "n", "titleY": 53}},
    "y": {"field": "v", "type": "quantitative", "scale": {"domain": [-0.88, 1.285], "nice": false, "zero": false}, "axis": {"values": [-0.5,0,0.5,1], "title": "xₙ", "labelExpr": "datum.value < 0 ? '-' + format(-datum.value, '.1f') : format(datum.value, '.1f')"}},
    "color": {"field": "s", "type": "nominal", "legend": null, "scale": {"domain": [1,2,3,4,5,6,7,8,9,10,11,12,13,14,15,16,17,18,19,20,21,22,23,24], "range": ["#000000","#FF0000","#00CD00","#0000FF","#00FFFF","#FF00FF","#000000","#FF0000","#00CD00","#0000FF","#00FFFF","#FF00FF","#000000","#FF0000","#00CD00","#0000FF","#00FFFF","#FF00FF","#000000","#FF0000","#00CD00","#0000FF","#00FFFF","#FF00FF"]}},
    "strokeDash": {"field": "s", "type": "nominal", "legend": null, "scale": {"domain": [1,2,3,4,5,6,7,8,9,10,11,12,13,14,15,16,17,18,19,20,21,22,23,24], "range": [[1,0],[5,5],[1.5,4],[1.5,4,5,4],[9,5],[1,0],[5,5],[1.5,4],[1.5,4,5,4],[9,5],[1,0],[5,5],[1.5,4],[1.5,4,5,4],[9,5],[1,0],[5,5],[1.5,4],[1.5,4,5,4],[9,5],[1,0],[5,5],[1.5,4],[1.5,4,5,4]]}}
   }},
  {"data": {"values": [{"ref": 1.06}]}, "mark": {"type": "rule", "color": "#333", "strokeWidth": 1}, "encoding": {"y": {"field": "ref", "type": "quantitative", "axis": null}}},
  {"mark": {"type": "point", "opacity": 0},
   "encoding": {
    "x": {"field": "n", "type": "quantitative", "scale": {"domain": [1.64, 11.143], "nice": false, "zero": false}, "axis": {"orient": "top", "labels": false, "ticks": false, "title": null}}
   }}
 ],
 "resolve": {"axis": {"x": "independent", "y": "independent"}}
}
]
}
